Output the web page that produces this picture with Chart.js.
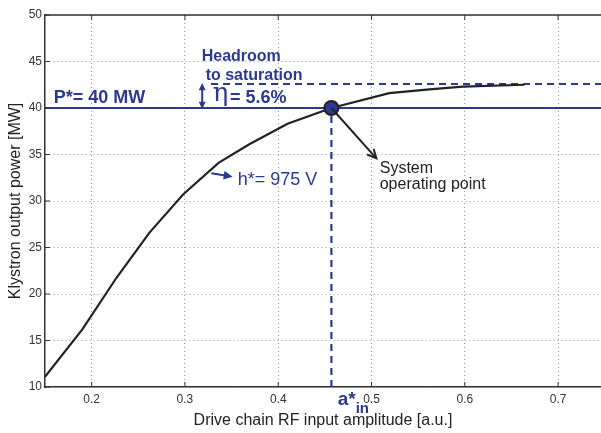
<!DOCTYPE html>
<html>
<head>
    <title>Klystron Operating Point</title>
    <script src="https://cdn.jsdelivr.net/npm/chart.js"></script>
    <style>
        body {
            margin: 0;
            background: white;
        }
        #wrap {
            width: 601px;
            height: 433px;
        }
    </style>
</head>
<body>
    <div id="wrap">
        <canvas id="myChart" width="601" height="433"></canvas>
    </div>
    <script>
        // Klystron transfer curve
        const driveAmp = [0.15, 0.19, 0.227, 0.262, 0.298, 0.336, 0.369, 0.41, 0.457, 0.519, 0.562, 0.598, 0.664];
        const outPower = [11.1, 16.2, 21.8, 26.6, 30.7, 34.1, 36.1, 38.3, 40.0, 41.6, 42.0, 42.3, 42.5];

        // operating point and saturation level
        const pStar = 40;
        const aStar = 0.457;
        const satPower = 42.58;
        const satStart = 0.328;

        // axes
        const xMin = 0.15;
        const xMax = 0.746;
        const xTicks = [0.2, 0.3, 0.4, 0.5, 0.6, 0.7];
        const yTicks = [10, 15, 20, 25, 30, 35, 40, 45, 50];

        const blue = '#2b3990';
        const dark = '#222';
        const font = '"Liberation Sans", Arial, sans-serif';

        const pts = (xs, ys) => xs.map((x, i) => ({ x: x, y: ys[i] }));

        const datasets = [
            {
                label: 'operating point',
                data: [{ x: aStar, y: pStar }],
                showLine: false,
                pointRadius: 7,
                pointBackgroundColor: blue,
                pointBorderColor: dark,
                pointBorderWidth: 2,
                order: 0
            },
            {
                label: 'klystron',
                data: pts(driveAmp, outPower),
                borderColor: dark,
                borderWidth: 2.2,
                pointRadius: 0,
                tension: 0,
                order: 1
            },
            {
                label: 'P*',
                data: [{ x: xMin, y: pStar }, { x: xMax, y: pStar }],
                borderColor: blue,
                borderWidth: 2,
                pointRadius: 0,
                order: 2
            },
            {
                label: 'saturation',
                data: [{ x: satStart, y: satPower }, { x: xMax, y: satPower }],
                borderColor: blue,
                borderWidth: 2,
                borderDash: [7, 5],
                pointRadius: 0,
                order: 2
            },
            {
                label: 'a*',
                data: [{ x: aStar, y: yTicks[0] }, { x: aStar, y: pStar }],
                borderColor: blue,
                borderWidth: 2.2,
                borderDash: [7, 5],
                pointRadius: 0,
                order: 2
            }
        ];

        function arrowHead(ctx, x0, y0, x1, y1, size, filled) {
            const a = Math.atan2(y1 - y0, x1 - x0);
            ctx.beginPath();
            ctx.moveTo(x1 - size * Math.cos(a - 0.45), y1 - size * Math.sin(a - 0.45));
            ctx.lineTo(x1, y1);
            ctx.lineTo(x1 - size * Math.cos(a + 0.45), y1 - size * Math.sin(a + 0.45));
            if (filled) {
                ctx.closePath();
                ctx.fill();
            } else {
                ctx.stroke();
            }
        }

        function line(ctx, x0, y0, x1, y1) {
            ctx.beginPath();
            ctx.moveTo(x0, y0);
            ctx.lineTo(x1, y1);
            ctx.stroke();
        }

        // frame on top + inward tick marks
        const framePlugin = {
            id: 'frame',
            afterDraw(chart) {
                const { ctx, chartArea: a, scales: { x, y } } = chart;
                ctx.save();
                ctx.strokeStyle = '#333';
                ctx.lineWidth = 1.5;
                line(ctx, a.left, a.top, a.right, a.top);
                ctx.lineWidth = 1;
                xTicks.forEach(v => {
                    const px = x.getPixelForValue(v);
                    line(ctx, px, a.bottom, px, a.bottom - 5);
                    line(ctx, px, a.top, px, a.top + 5);
                });
                yTicks.forEach(v => {
                    const py = y.getPixelForValue(v);
                    line(ctx, a.left, py, a.left + 5, py);
                });
                ctx.restore();
            }
        };

        // text labels and arrows, placed in data coordinates
        const notesPlugin = {
            id: 'notes',
            afterDraw(chart) {
                const { ctx, scales: { x, y } } = chart;
                const X = v => x.getPixelForValue(v);
                const Y = v => y.getPixelForValue(v);
                ctx.save();
                ctx.textBaseline = 'alphabetic';
                ctx.textAlign = 'left';

                ctx.fillStyle = blue;
                ctx.font = 'bold 18px ' + font;
                ctx.fillText('P*= 40 MW', X(0.1593), Y(40.54));

                ctx.font = 'bold 16px ' + font;
                ctx.fillText('Headroom', X(0.318), Y(45.05));
                ctx.fillText('to saturation', X(0.3222), Y(43.0));

                ctx.font = '26px "DejaVu Serif", serif';
                ctx.fillText('\u03B7', X(0.3297), Y(40.7));
                ctx.font = 'bold 18px ' + font;
                ctx.fillText('= 5.6%', X(0.3484), Y(40.54));

                // headroom double arrow
                ctx.strokeStyle = blue;
                ctx.fillStyle = blue;
                ctx.lineWidth = 2;
                const hx = X(0.3185);
                line(ctx, hx, Y(satPower) + 3, hx, Y(pStar) - 3);
                arrowHead(ctx, hx, Y(pStar), hx, Y(satPower) - 1, 8, true);
                arrowHead(ctx, hx, Y(satPower), hx, Y(pStar) + 1, 8, true);

                ctx.font = '18px ' + font;
                ctx.fillText('h*= 975 V', X(0.3565), Y(31.72));
                line(ctx, X(0.3283), Y(32.98), X(0.348), Y(32.65));
                arrowHead(ctx, X(0.3283), Y(32.98), X(0.3512), Y(32.61), 10, true);

                // operating point arrow
                ctx.strokeStyle = dark;
                ctx.lineWidth = 2;
                line(ctx, X(aStar), Y(pStar), X(0.5052), Y(34.59));
                arrowHead(ctx, X(aStar), Y(pStar), X(0.5052), Y(34.59), 10, false);

                ctx.fillStyle = dark;
                ctx.font = '16px ' + font;
                ctx.fillText('System', X(0.5088), Y(33.01));
                ctx.fillText('operating point', X(0.5088), Y(31.29));

                ctx.fillStyle = blue;
                ctx.font = 'bold 19px ' + font;
                ctx.fillText('a*', X(0.4637), Y(8.06));
                ctx.font = 'bold 15px ' + font;
                ctx.fillText('in', X(0.483), Y(7.2));
                ctx.restore();
            }
        };

        const ctx = document.getElementById('myChart').getContext('2d');
        new Chart(ctx, {
            type: 'scatter',
            data: { datasets: datasets },
            options: {
                responsive: false,
                animation: false,
                layout: {
                    autoPadding: false,
                    padding: { top: 15, left: 0, right: 0, bottom: 0 }
                },
                plugins: {
                    legend: { display: false },
                    tooltip: { enabled: false }
                },
                elements: { line: { fill: false } },
                datasets: { scatter: { showLine: true } },
                scales: {
                    x: {
                        type: 'linear',
                        min: xMin,
                        max: xMax,
                        afterBuildTicks: axis => { axis.ticks = xTicks.map(v => ({ value: v })); },
                        afterFit: axis => {
                            axis.height = 46;
                            axis.paddingLeft = 0;
                            axis.paddingRight = 0;
                        },
                        grid: { color: '#9a9a9a', lineWidth: 1, drawTicks: false },
                        border: { color: '#333', width: 1.5, dash: [1, 3] },
                        ticks: {
                            padding: 5,
                            color: '#333',
                            font: { family: font, size: 12 },
                            callback: v => v.toFixed(1)
                        },
                        title: {
                            display: true,
                            text: 'Drive chain RF input amplitude [a.u.]',
                            color: '#222',
                            font: { family: font, size: 16 },
                            padding: { top: 0, bottom: 3 }
                        }
                    },
                    y: {
                        min: 10,
                        max: 50,
                        afterBuildTicks: axis => { axis.ticks = yTicks.map(v => ({ value: v })); },
                        afterFit: axis => { axis.width = 45; },
                        grid: { color: '#9a9a9a', lineWidth: 1, drawTicks: false },
                        border: { color: '#333', width: 1.5, dash: [1, 3] },
                        ticks: {
                            padding: 3,
                            color: '#333',
                            font: { family: font, size: 12 }
                        },
                        title: {
                            display: true,
                            text: 'Klystron output power [MW]',
                            color: '#222',
                            font: { family: font, size: 16 },
                            padding: { top: 6, bottom: 0 }
                        }
                    }
                }
            },
            plugins: [framePlugin, notesPlugin]
        });
    </script>
</body>
</html>
